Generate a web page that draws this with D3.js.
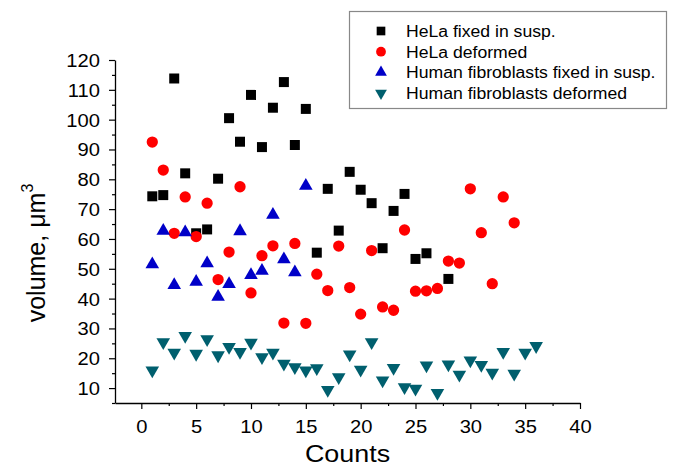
<!DOCTYPE html>
<html lang="en">

<head>
    <meta charset="UTF-8">
    <title>Cell volume</title>
    <style>
        body { margin: 0; background: #fff; }
        text { font-family: Arial, "Liberation Sans", sans-serif; fill: #000; }
    </style>
</head>

<body>
    <div id="my_dataviz"></div>
    <script src="https://d3js.org/d3.v7.min.js"></script>
    <script>
        // values: count index -> volume
        var helaFixedX = [1, 2, 3, 4, 5, 6, 7, 8, 9, 10, 11, 12, 13, 14, 15, 16, 17, 18, 19, 20, 21, 22, 23, 24, 25, 26, 28];
        var helaFixedY = [74.3, 74.7, 113.8, 82.0, 61.9, 63.2, 80.2, 100.5, 92.6, 108.3, 90.8, 104.0, 112.6, 91.5, 103.6, 55.4, 76.8, 62.8, 82.5, 76.5, 72.0, 56.9, 69.4, 75.1, 53.3, 55.2, 46.6];

        var helaDefX = [1, 2, 3, 4, 5, 6, 7, 8, 9, 10, 11, 12, 13, 14, 15, 16, 17, 18, 19, 20, 21, 22, 23, 24, 25, 26, 27, 28, 29, 30, 31, 32, 33, 34];
        var helaDefY = [92.5, 83.1, 61.9, 74.1, 60.8, 72.0, 46.4, 55.6, 77.5, 41.9, 54.4, 57.7, 31.8, 58.5, 31.7, 48.2, 42.7, 57.6, 43.7, 34.8, 56.1, 37.2, 36.1, 63.0, 42.5, 42.6, 43.4, 52.6, 51.9, 76.8, 62.1, 45.0, 74.1, 65.4];

        var fibroFixedX = [1, 2, 3, 4, 5, 6, 7, 8, 9, 10, 11, 12, 13, 14, 15];
        var fibroFixedY = [51.5, 62.7, 44.5, 62.2, 45.6, 51.8, 40.6, 44.9, 62.6, 47.9, 49.3, 68.1, 53.2, 48.8, 77.8];

        var fibroDefX = [1, 2, 3, 4, 5, 6, 7, 8, 9, 10, 11, 12, 13, 14, 15, 16, 17, 18, 19, 20, 21, 22, 23, 24, 25, 26, 27, 28, 29, 30, 31, 32, 33, 34, 35, 36];
        var fibroDefY = [15.9, 25.4, 21.9, 27.5, 21.5, 26.4, 21.0, 23.8, 22.1, 25.2, 20.4, 21.9, 18.2, 17.0, 15.9, 16.7, 9.4, 13.7, 21.3, 16.2, 25.4, 12.6, 16.8, 10.3, 9.8, 17.6, 8.4, 17.9, 14.5, 19.3, 17.8, 15.2, 22.1, 14.8, 21.9, 24.1];

        var xTicks = [0, 5, 10, 15, 20, 25, 30, 35, 40];
        var yTicks = [10, 20, 30, 40, 50, 60, 70, 80, 90, 100, 110, 120];

        var seriesNames = ["HeLa fixed in susp.", "HeLa deformed", "Human fibroblasts fixed in susp.", "Human fibroblasts deformed"];

        const width = 674, height = 467;
        const svg = d3.select("#my_dataviz").append("svg")
            .attr("width", width)
            .attr("height", height);

        var x = d3.scaleLinear().domain([-2.4, 40]).range([115, 580]);
        var y = d3.scaleLinear().domain([5, 120]).range([403, 60]);

        // the original picture is a bit wider than tall, so stretch text sideways
        function stretch(sel, k) {
            sel.each(function () {
                var w = this.getComputedTextLength();
                d3.select(this).attr("textLength", w * k).attr("lengthAdjust", "spacingAndGlyphs");
            });
        }

        // minor ticks first
        var xMinor = d3.range(2.5, 40, 5);
        var yMinor = d3.range(5, 120, 10);
        svg.append("g")
            .attr("transform", "translate(0,403)")
            .call(d3.axisBottom(x).tickValues(xMinor).tickSize(3).tickFormat(""))
            .call(g => g.select(".domain").remove())
            .selectAll("line").attr("stroke-width", 1.2);
        svg.append("g")
            .attr("transform", "translate(115,0)")
            .call(d3.axisLeft(y).tickValues(yMinor).tickSize(3).tickFormat(""))
            .call(g => g.select(".domain").remove())
            .selectAll("line").attr("stroke-width", 1.2);

        var gx = svg.append("g")
            .attr("transform", "translate(0,403)")
            .call(d3.axisBottom(x).tickValues(xTicks).tickSize(6).tickSizeOuter(0).tickPadding(11));
        var gy = svg.append("g")
            .attr("transform", "translate(115,0)")
            .call(d3.axisLeft(y).tickValues(yTicks).tickSize(6).tickSizeOuter(0).tickPadding(9));

        [gx, gy].forEach(function (g) {
            g.select(".domain").attr("stroke-width", 1.3);
            g.selectAll(".tick line").attr("stroke-width", 1.2);
            g.selectAll(".tick text")
                .attr("font-family", "Arial, 'Liberation Sans', sans-serif")
                .attr("font-size", 18)
                .attr("fill", "#000");
        });
        gy.selectAll(".tick text").attr("dy", "0.36em");
        stretch(gx.selectAll(".tick text"), 1.12);
        stretch(gy.selectAll(".tick text"), 1.12);

        // axis titles
        var xt = svg.append("text")
            .attr("x", 347.5)
            .attr("y", 462)
            .attr("text-anchor", "middle")
            .attr("font-size", 24)
            .text("Counts");
        stretch(xt, 1.12);

        var yt = svg.append("text")
            .attr("transform", "translate(45,253) rotate(-90)")
            .attr("text-anchor", "middle")
            .attr("font-size", 25);
        yt.append("tspan").text("volume, \u03bcm");
        yt.append("tspan").attr("font-size", 16).attr("dy", -12).text("3");

        // marker shapes
        var styles = [
            { sym: d3.symbolSquare, size: 100, color: "#000000", rot: 0 },
            { sym: d3.symbolCircle, size: 100, color: "#ff0000", rot: 0 },
            { sym: d3.symbolTriangle, size: 80, color: "#0000c8", rot: 0 },
            { sym: d3.symbolTriangle, size: 80, color: "#005f6e", rot: 180 }
        ];
        var series = [
            { xs: helaFixedX, ys: helaFixedY },
            { xs: helaDefX, ys: helaDefY },
            { xs: fibroFixedX, ys: fibroFixedY },
            { xs: fibroDefX, ys: fibroDefY }
        ];

        series.forEach(function (s, i) {
            var st = styles[i];
            var pts = s.xs.map(function (d, j) { return { t: d, v: s.ys[j] }; });
            svg.append("g").selectAll("path")
                .data(pts)
                .join("path")
                .attr("d", d3.symbol().type(st.sym).size(st.size))
                .attr("transform", function (d) {
                    return "translate(" + x(d.t) + "," + y(d.v) + ") rotate(" + st.rot + ")";
                })
                .attr("fill", st.color);
        });

        // legend
        var leg = svg.append("g");
        leg.append("rect")
            .attr("x", 349.5).attr("y", 11.5)
            .attr("width", 317).attr("height", 97)
            .attr("fill", "#fff")
            .attr("stroke", "#888")
            .attr("stroke-width", 1.2);
        seriesNames.forEach(function (name, i) {
            var cy = 31 + i * 20.7;
            var st = styles[i];
            leg.append("path")
                .attr("d", d3.symbol().type(st.sym).size(st.size * 0.75))
                .attr("transform", "translate(381," + cy + ") rotate(" + st.rot + ")")
                .attr("fill", st.color);
            var t = leg.append("text")
                .attr("x", 406)
                .attr("y", cy + 6)
                .attr("font-size", 16)
                .text(name);
            stretch(t, 1.1);
        });
    </script>
</body>

</html>
